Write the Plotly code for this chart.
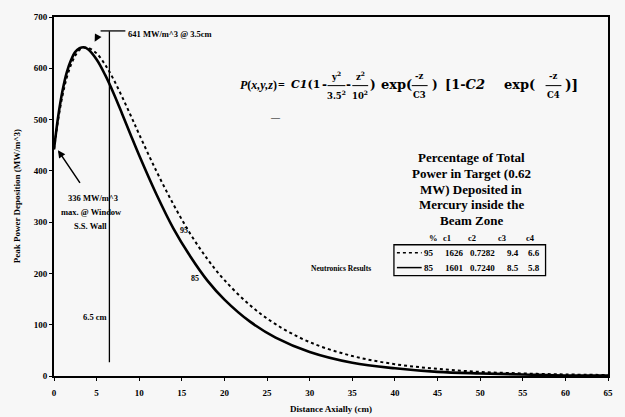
import plotly.graph_objects as go

# ---- data ----
x_cm = [0, 0.5, 1, 1.5, 2, 2.5, 3, 3.5, 4, 5, 6, 7, 8, 9, 10, 12, 14, 16, 18, 20,
        23, 26, 30, 35, 40, 45, 50, 55, 60, 65]
p85 = [442, 507, 556, 592, 616, 632, 639, 641, 637, 617, 587, 551, 511, 470, 430,
       355, 288, 233, 186, 149, 106, 75, 47, 26, 15, 8, 5, 3, 1, 1]
p95 = [442, 501, 547, 582, 607, 625, 636, 640, 640, 629, 607, 578, 544, 508, 471,
       400, 335, 277, 228, 187, 138, 101, 66, 39, 23, 14, 8, 5, 3, 2]

pct = ["95", "85"]
c1 = ["1626", "1601"]
c2 = ["0.7282", "0.7240"]
c3 = ["9.4", "8.5"]
c4 = ["6.6", "5.8"]
x_ticks = list(range(0, 70, 5))
y_ticks = list(range(0, 800, 100))
wall_x = 6.5

# ---- layout geometry ----
W_, H_ = 625, 417
L, T, PW, PH = 54, 15, 559, 361
FONT = "Liberation Serif"
FONT2 = "DejaVu Serif"


def px(x):
    return (x - L) / PW


def py(y):
    return (T + PH - y) / PH


fig = go.Figure()
fig.add_trace(go.Scatter(x=x_cm, y=p95, mode="lines", line=dict(color="black", width=2, dash="dot", shape="spline"), showlegend=False))
fig.add_trace(go.Scatter(x=x_cm, y=p85, mode="lines", line=dict(color="black", width=2.6, shape="spline"), showlegend=False))

ann = []
shapes = []


def txt(s, x, y, size=9, xanchor="center", family=FONT, **kw):
    ann.append(dict(text=s, x=px(x), y=py(y), xref="paper", yref="paper", showarrow=False,
                    font=dict(family=family, size=size, color="black"), xanchor=xanchor,
                    yanchor="middle", **kw))


def hline(x0, x1, y, width=1, dash=None):
    shapes.append(dict(type="line", xref="paper", yref="paper", x0=px(x0), x1=px(x1), y0=py(y), y1=py(y),
                       line=dict(color="black", width=width, dash=dash)))


# axis titles
txt("<b>Distance Axially (cm)</b>", 334, 409, size=9)
txt("<b>Peak Power Deposition (MW/m^3)</b>", 17, 195, size=9, textangle=-90)

# peak annotation
txt("<b>641 MW/m^3 @ 3.5cm</b>", 127, 32, size=8.5, xanchor="left")
hline(101, 126, 29, width=1.3)
ann.append(dict(x=px(95), y=py(40), xref="paper", yref="paper", ax=6, ay=-11, showarrow=True,
                arrowhead=2, arrowsize=1, arrowwidth=1.5, arrowcolor="black", text=" "))
shapes.append(dict(type="line", xref="x", yref="y", x0=wall_x, x1=wall_x, y0=27, y1=672,
                   line=dict(color="black", width=1.3)))

# window annotation
txt("<b>336 MW/m^3</b>", 93, 197, size=8.5)
txt("<b>max. @ Window</b>", 92, 211, size=8.5)
txt("<b>S.S. Wall</b>", 91, 225, size=8.5)
ann.append(dict(x=px(58), y=py(149), xref="paper", yref="paper", ax=25, ay=37, showarrow=True,
                arrowhead=2, arrowsize=1, arrowwidth=1.5, arrowcolor="black", text=" "))
txt("<b>6.5 cm</b>", 95, 317, size=8.5)

# curve labels
txt("<b>95</b>", 185, 230, size=8)
txt("<b>85</b>", 196, 278, size=8)

# formula
fy = 83
fs = 12
txt("<b><i>P</i>(<i>x,y,z</i>)</b>", 240, fy, size=fs, xanchor="left")
txt("<b>=</b>", 284, fy, size=fs)
txt("<b><i>C1</i>(1</b>", 291, fy, size=11, xanchor="left", family=FONT2)
txt("<b>-</b>", 327, fy, size=fs, family=FONT2)
for (num, den, cx, half) in [("y<sup>2</sup>", "3.5<sup>2</sup>", 339, 9), ("z<sup>2</sup>", "10<sup>2</sup>", 363, 8),
                             ("-z", "C3", 423, 8), ("-z", "C4", 558, 8)]:
    txt("<b>%s</b>" % num, cx, fy - 9, size=8.5, family=FONT2)
    txt("<b>%s</b>" % den, cx, fy + 10, size=8.5, family=FONT2)
    hline(cx - half, cx + half, fy + 1, width=1)
txt("<b>-</b>", 351, fy, size=fs, family=FONT2)
txt("<b>)</b>", 371, fy, size=fs, xanchor="left", family=FONT2)
txt("<b>exp(</b>", 382, fy, size=13, xanchor="left", family=FONT2)
txt("<b>)</b>", 433, fy, size=fs, xanchor="left", family=FONT2)
txt("<b>[1-<i>C2</i></b>", 447, fy, size=13, xanchor="left", family=FONT2)
txt("<b>exp(</b>", 506, fy, size=13, xanchor="left", family=FONT2)
txt("<b>)]</b>", 568, fy, size=14, xanchor="left", family=FONT2)
txt("<b>—</b>", 277, 116, size=9)

# legend block
for i, line in enumerate(["Percentage of Total", "Power in Target (0.62", "MW) Deposited in",
                          "Mercury inside the", "Beam Zone"]):
    txt("<b>%s</b>" % line, 475, 156 + i * 16, size=13)
for lab, cx in zip(["%", "c1", "c2", "c3", "c4"], [437, 451, 476, 506, 535]):
    txt("<b>%s</b>" % lab, cx, 237, size=8.5)
row_y = [252, 267]
for i in range(2):
    txt("<b>%s</b>" % pct[i], 432, row_y[i], size=9)
    txt("<b>%s</b>" % c1[i], 458, row_y[i], size=9)
    txt("<b>%s</b>" % c2[i], 486, row_y[i], size=9)
    txt("<b>%s</b>" % c3[i], 517, row_y[i], size=9)
    txt("<b>%s</b>" % c4[i], 538, row_y[i], size=9)
hline(400, 425, row_y[0], width=1.5, dash="dot")
hline(400, 425, row_y[1], width=1.5)
shapes.append(dict(type="rect", xref="paper", yref="paper", x0=px(397), x1=px(550), y0=py(244), y1=py(275),
                   line=dict(color="black", width=1.3)))
txt("<b>Neutronics Results</b>", 344, 268, size=7.5)

axis_common = dict(showline=True, linecolor="black", linewidth=2, mirror=True, showgrid=False,
                   zeroline=False, ticks="outside", ticklen=3, tickcolor="black", tickwidth=1,
                   tickfont=dict(family=FONT, size=9, color="black"))
fig.update_xaxes(range=[0, 65], tickvals=x_ticks, ticktext=["<b>%d</b>" % v for v in x_ticks],
                 ticklabelstandoff=4, **axis_common)
fig.update_yaxes(range=[0, 700], tickvals=y_ticks, ticktext=["<b>%d</b>" % v for v in y_ticks],
                 **axis_common)

fig.update_layout(width=W_, height=H_, margin=dict(l=L, r=W_ - L - PW, t=T, b=H_ - T - PH),
                  paper_bgcolor="#f7f7f7", plot_bgcolor="#f7f7f7", annotations=ann, shapes=shapes,
                  showlegend=False)
fig.write_html("out.html", config={"displayModeBar": False},
               post_script="document.body.style.margin='0';")
